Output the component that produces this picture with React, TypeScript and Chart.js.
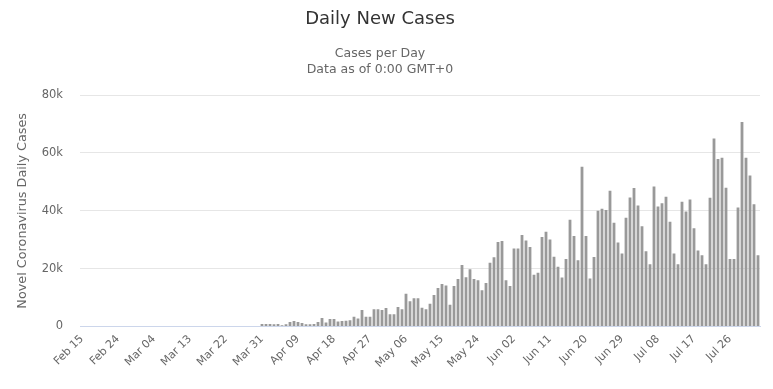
import React, { useEffect, useRef } from "react";
import { Chart, registerables } from "chart.js";

Chart.register(...registerables);

// Daily new cases, Feb 15 – Aug 2
const febCases = [0, 0, 0, 0, 0, 0, 0, 0, 0, 0, 0, 0, 0, 0, 0];
const marCases = [
  0, 0, 0, 0, 0, 0, 0, 0, 0, 0, 0, 0, 0, 0, 0, 0, 0, 0, 0, 0, 0, 0, 0, 0, 0, 0, 0, 0, 0, 0, 900,
];
const aprCases = [
  900, 900, 800, 900, 400, 800, 1550, 1900, 1550, 1200, 800, 800, 900, 1550, 2900, 1400, 2600, 2600,
  1700, 1900, 2000, 2200, 3400, 2800, 5700, 3400, 3400, 6000, 6000, 5700,
];
const mayCases = [
  6400, 4200, 4200, 6700, 6000, 11300, 8700, 9800, 9800, 6500, 6000, 7900, 10900, 13300, 14700, 14200,
  7500, 14000, 16400, 21300, 17000, 19800, 16400, 16000, 12500, 15000, 22000, 23900, 29200, 29600, 16000,
];
const junCases = [
  14000, 27000, 27000, 31600, 29700, 27500, 17900, 18600, 30900, 32800, 30100, 24100, 20700, 16900, 23300,
  36900, 31300, 22900, 55200, 31300, 16600, 24000, 40000, 40700, 40300, 46900, 35900, 29000, 25200, 37600,
];
const julCases = [
  44600, 47900, 41800, 34700, 26000, 21500, 48400, 41500, 42600, 44900, 36200, 25200, 21500, 43100, 39800,
  43900, 34000, 26300, 24600, 21500, 44500, 65000, 57900, 58300, 48000, 23300, 23300, 41100, 70700, 58300, 52200,
];
const augCases = [42300, 24600];

const dailyCases = [
  ...febCases,
  ...marCases,
  ...aprCases,
  ...mayCases,
  ...junCases,
  ...julCases,
  ...augCases,
];

const monthNames = ["Jan", "Feb", "Mar", "Apr", "May", "Jun", "Jul", "Aug", "Sep", "Oct", "Nov", "Dec"];
const startDate = Date.UTC(2020, 1, 15);
const dateLabels: string[] = dailyCases.map((_, i) => {
  const d = new Date(startDate + i * 86400000);
  const day = String(d.getUTCDate()).padStart(2, "0");
  return `${monthNames[d.getUTCMonth()]} ${day}`;
});

const yTicks = [0, 20000, 40000, 60000, 80000];
const labelEvery = 9;

const FONT = "'DejaVu Sans', 'Open Sans', sans-serif";

export default function App() {
  const canvasRef = useRef<HTMLCanvasElement | null>(null);

  useEffect(() => {
    if (!canvasRef.current) return;
    const chart = new Chart(canvasRef.current, {
      type: "bar",
      data: {
        labels: dateLabels,
        datasets: [
          {
            label: "Daily Cases",
            data: dailyCases,
            backgroundColor: "#999999",
            borderWidth: 0,
            barPercentage: 0.7,
            categoryPercentage: 1,
          },
        ],
      },
      options: {
        animation: false,
        responsive: false,
        devicePixelRatio: 1,
        layout: { padding: { left: 0, right: 13, top: 0, bottom: 0 } },
        plugins: {
          legend: { display: false },
          tooltip: { enabled: false },
          title: {
            display: true,
            text: "Daily New Cases",
            color: "#333333",
            font: { family: FONT, size: 18, weight: "normal", lineHeight: 1.2 },
            padding: { top: 9, bottom: 6 },
          },
          subtitle: {
            display: true,
            text: ["Cases per Day", "Data as of 0:00 GMT+0"],
            color: "#666666",
            font: { family: FONT, size: 12.5, weight: "normal", lineHeight: 1.3 },
            padding: { top: 8.8, bottom: 17.2 },
          },
        },
        scales: {
          x: {
            type: "category",
            offset: true,
            grid: { display: false, drawTicks: false },
            border: { display: true, color: "#ccd6eb", width: 1 },
            ticks: {
              autoSkip: false,
              minRotation: 45,
              maxRotation: 45,
              padding: 6,
              color: "#666666",
              font: { family: FONT, size: 11 },
              callback: (_v: any, i: number) => (i % labelEvery === 0 ? dateLabels[i] : null),
            },
            afterFit: (scale: any) => {
              scale.height = 62.5;
            },
          },
          y: {
            min: 0,
            max: 80000,
            afterBuildTicks: (scale: any) => {
              scale.ticks = yTicks.map((v) => ({ value: v }));
            },
            grid: { color: "#e6e6e6", drawTicks: false, lineWidth: 1 },
            border: { display: false },
            ticks: {
              padding: 17,
              color: "#666666",
              font: { family: FONT, size: 11.5 },
              callback: (v: any) => (Number(v) === 0 ? "0" : `${Number(v) / 1000}k`),
            },
            title: {
              display: true,
              text: "Novel Coronavirus Daily Cases",
              color: "#666666",
              font: { family: FONT, size: 12.8, weight: "normal", lineHeight: 1.2 },
              padding: { top: 15.3, bottom: 0 },
            },
            afterFit: (scale: any) => {
              scale.width = 80;
            },
          },
        },
      },
    });
    return () => chart.destroy();
  }, []);

  return (
    <div
      style={{
        position: "fixed",
        left: 0,
        top: 0,
        width: 773,
        height: 389,
        background: "#ffffff",
      }}
    >
      <canvas ref={canvasRef} width={773} height={389} style={{ width: 773, height: 389, display: "block" }} />
    </div>
  );
}
